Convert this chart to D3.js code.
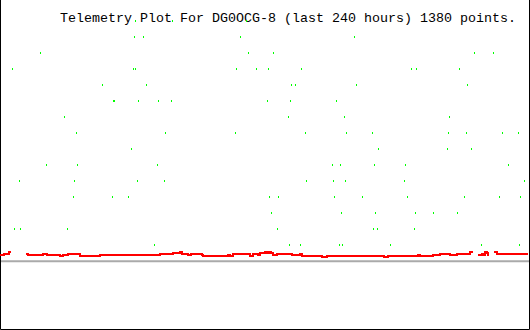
<!DOCTYPE html>
<html>
<head>
<meta charset="utf-8">
<script src="https://cdn.jsdelivr.net/npm/d3@7"></script>
<style>
  body { margin: 0; background: #fff; }
  svg { display: block; }
</style>
</head>
<body>
<div class="container"></div>
<script>
const title = "Telemetry Plot For DG0OCG-8 (last 240 hours) 1380 points.";

// hours on the x axis (0 = oldest, 240 = now)
const hourDomain = [0, 240];
// level units on the y axis
const levelDomain = [0, 15];

// green samples: [hour, level]
const greenPoints = [
  [61.5, 15], [78.4, 15], [112.2, 15],
  [61.0, 14], [65.1, 14], [109.2, 14], [161.0, 14],
  [18.3, 13], [112.9, 13], [124.2, 13], [215.6, 13], [224.2, 13],
  [5.6, 12], [60.6, 12], [61.5, 12], [107.4, 12], [116.5, 12], [122.0, 12], [137.0, 12], [187.0, 12], [189.2, 12], [208.8, 12],
  [46.5, 11], [66.5, 11], [132.4, 11], [134.2, 11], [162.0, 11], [212.4, 11],
  [51.5, 10], [52.1, 10], [62.9, 10], [72.0, 10], [77.9, 10], [121.5, 10], [132.0, 10], [152.9, 10],
  [29.2, 9], [131.0, 9], [156.5, 9], [204.2, 9],
  [34.7, 8], [75.1, 8], [107.0, 8], [138.8, 8], [157.4, 8], [169.2, 8], [203.8, 8], [212.0, 8], [228.3, 8], [235.6, 8],
  [59.7, 7], [172.0, 7], [203.3, 7], [214.2, 7],
  [21.0, 6], [35.1, 6], [71.5, 6], [151.0, 6], [154.7, 6], [170.1, 6], [184.2, 6], [231.0, 6],
  [8.8, 5], [33.8, 5], [62.4, 5], [74.7, 5], [139.2, 5], [151.5, 5], [157.0, 5], [183.8, 5], [238.2, 5], [238.6, 5],
  [33.3, 4], [51.0, 4], [58.3, 4], [122.4, 4], [126.5, 4], [152.0, 4], [164.7, 4], [185.1, 4], [211.0, 4], [227.0, 4], [236.5, 4],
  [123.3, 3], [155.1, 3], [170.6, 3], [188.8, 3], [197.0, 3], [207.9, 3],
  [6.5, 2], [9.2, 2], [30.6, 2], [126.0, 2], [169.7, 2], [171.5, 2], [188.3, 2],
  [70.1, 1], [131.5, 1], [136.5, 1], [154.2, 1], [155.6, 1], [177.4, 1], [218.8, 1], [236.0, 1]
];

// red samples: [hour, level], null = no data
const redPoints = [
  [0, 0.375], [1.8, 0.42], [4.1, 0.54], [5.0, 0.54], [5.0, null],
  [11.8, 0.42], [12.7, 0.375], [19.5, 0.42], [21.4, 0.375], [25.0, 0.34],
  [25.5, 0.375], [25.9, 0.34], [27.3, 0.31], [28.6, 0.34], [30.9, 0.42],
  [31.8, 0.43], [36.4, 0.31], [45.5, 0.375], [72.7, 0.43], [77.3, 0.40],
  [78.6, 0.49], [80.5, 0.46], [81.8, 0.52], [82.7, 0.44], [85.5, 0.34],
  [86.8, 0.44], [91.8, 0.375], [92.3, 0.31], [103.6, 0.375], [104.5, 0.31],
  [105.9, 0.45], [112.3, 0.40], [113.6, 0.31], [115.0, 0.45], [117.3, 0.375],
  [118.2, 0.46], [120.5, 0.52], [121.4, 0.46], [122.3, 0.52], [123.2, 0.46],
  [124.1, 0.375], [125.9, 0.43], [132.7, 0.34], [133.6, 0.37], [134.1, 0.34],
  [136.4, 0.40], [137.3, 0.31], [146.4, 0.25], [148.6, 0.31], [172.7, 0.27],
  [173.6, 0.31], [174.5, 0.25], [176.4, 0.31], [190.0, 0.375], [190.9, 0.31],
  [196.8, 0.375], [200.0, 0.45], [204.5, 0.375], [207.7, 0.45], [213.6, 0.56],
  [215.0, 0.56], [215.0, null],
  [217.3, 0.375], [219.1, 0.45], [220.0, 0.375], [220.5, 0.56], [221.4, 0.46],
  [221.8, 0.375], [222.3, 0.375], [222.3, null],
  [224.5, 0.56], [225.9, 0.45], [231.8, 0.40], [235.0, 0.45], [240.0, 0.45]
];

const width = 530, height = 330;

const x = d3.scaleLinear().domain(hourDomain).range([0, 528]);
const y = d3.scaleLinear().domain(levelDomain).range([260.7, 20.7]);

const svg = d3.select(".container")
  .append("svg")
  .attr("width", width)
  .attr("height", height);

svg.append("rect")
  .attr("width", width)
  .attr("height", height)
  .attr("fill", "#fff");

// frame: left, right, bottom
svg.append("path")
  .attr("d", "M0.5,0 V329.5 H529.5 V0")
  .attr("fill", "none")
  .attr("stroke", "#000")
  .attr("stroke-width", 1);

// baseline
svg.append("line")
  .attr("x1", 1)
  .attr("x2", 529)
  .attr("y1", y(0) + 0.5)
  .attr("y2", y(0) + 0.5)
  .attr("stroke", "#aaaaaa")
  .attr("stroke-width", 2);

svg.append("text")
  .attr("x", 60)
  .attr("y", 22)
  .attr("font-family", "Liberation Mono, DejaVu Sans Mono, monospace")
  .attr("font-size", 13.5)
  .attr("textLength", 456)
  .attr("lengthAdjust", "spacingAndGlyphs")
  .attr("fill", "#000")
  .text(title);

svg.append("g")
  .selectAll("rect")
  .data(greenPoints)
  .enter()
  .append("rect")
  .attr("x", d => Math.floor(x(d[0])))
  .attr("y", d => Math.round(y(d[1]) - 1))
  .attr("width", 1)
  .attr("height", 2)
  .attr("fill", "#00ff00");

const line = d3.line()
  .defined(d => d[1] !== null)
  .x(d => x(d[0]))
  .y(d => y(d[1]))
  .curve(d3.curveStepAfter);

svg.append("path")
  .datum(redPoints)
  .attr("d", line)
  .attr("fill", "none")
  .attr("stroke", "#ff0000")
  .attr("stroke-width", 2)
  .attr("shape-rendering", "crispEdges");
</script>
</body>
</html>
